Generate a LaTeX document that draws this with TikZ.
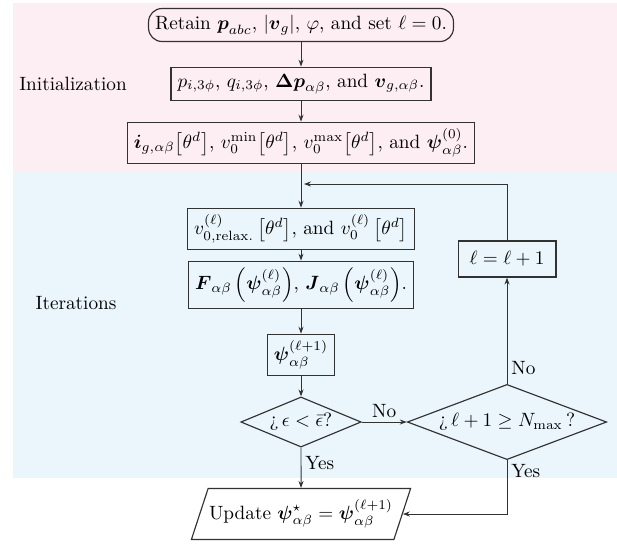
\documentclass[tikz,border=0pt]{standalone}
\usepackage{amsmath,amssymb}
\usetikzlibrary{shapes.geometric,arrows.meta}
\definecolor{initbg}{RGB}{252,238,243}
\definecolor{iterbg}{RGB}{234,246,251}
\definecolor{linec}{RGB}{50,50,50}
\begin{document}
\begin{tikzpicture}[x=0.52pt,y=-0.52pt,
  stepbox/.style={draw=linec, line width=0.6pt, rectangle, inner sep=3.4pt},
  startbox/.style={stepbox, rounded corners=7pt},
  decision/.style={draw=linec, line width=0.6pt, diamond, inner sep=1.2pt},
  iobox/.style={draw=linec, line width=0.6pt, trapezium, trapezium left angle=68, trapezium right angle=112, trapezium stretches=true, inner xsep=0.5pt, minimum height=26.5pt},
  arr/.style={draw=linec, line width=0.5pt, -{Stealth[length=3.6pt,width=2.6pt]}},
  lbl/.style={inner sep=2pt}]
\useasboundingbox (0,0) rectangle (617,548);
\fill[initbg] (13,3) rectangle (617,172);
\fill[iterbg] (13,172) rectangle (617,478);

\node[startbox] (start) at (301,25) {Retain $\boldsymbol{p}_{abc}$, $|\boldsymbol{v}_g|$, $\varphi$, and set $\ell=0$.};
\node[stepbox] (b2) at (301,84) {$p_{i,3\phi}$, $q_{i,3\phi}$, $\boldsymbol{\Delta p}_{\alpha\beta}$, and $\boldsymbol{v}_{g,\alpha\beta}$.};
\node[stepbox] (b3) at (301,143) {$\boldsymbol{i}_{g,\alpha\beta}\bigl[\theta^d\bigr]$, $v_0^{\min}\bigl[\theta^d\bigr]$, $v_0^{\max}\bigl[\theta^d\bigr]$, and $\boldsymbol{\psi}^{(0)}_{\alpha\beta}$.};
\node[stepbox] (b4) at (301,229) {$v^{(\ell)}_{0,\text{relax.}}\left[\theta^d\right]$, and $v^{(\ell)}_0\left[\theta^d\right]$};
\node[stepbox] (b5) at (301,285) {$\boldsymbol{F}_{\alpha\beta}\left(\boldsymbol{\psi}^{(\ell)}_{\alpha\beta}\right)$, $\boldsymbol{J}_{\alpha\beta}\left(\boldsymbol{\psi}^{(\ell)}_{\alpha\beta}\right)$.};
\node[stepbox] (b6) at (301,355) {$\boldsymbol{\psi}^{(\ell+1)}_{\alpha\beta}$};
\node[decision, shape aspect=2.4] (d1) at (301,422) {¿$\,\epsilon<\bar{\epsilon}$?};
\node[decision, shape aspect=2.65] (d2) at (507,422) {¿$\,\ell+1\geq N_{\max}$\,?};
\node[stepbox, inner xsep=6pt, inner ysep=5.5pt] (lb) at (507,259) {$\ell=\ell+1$};
\node[iobox] (out) at (301,514) {Update $\boldsymbol{\psi}^{\star}_{\alpha\beta}=\boldsymbol{\psi}^{(\ell+1)}_{\alpha\beta}$};

\node (init) at (73,84) {Initialization};
\node (iter) at (76,303) {Iterations};

\coordinate (join) at (304,184);

\draw[arr] (start) -- (b2);
\draw[arr] (b2) -- (b3);
\draw[arr] (b3) -- (b4);
\draw[arr] (b4) -- (b5);
\draw[arr] (b5) -- (b6);
\draw[arr] (b6) -- (d1);
\draw[arr] (d1) -- node[lbl, above] {No} (d2);
\draw[arr] (d2) -- node[lbl, right, pos=0.15] {No} (lb);
\draw[arr] (lb) |- (join);
\draw[arr] (d1) -- node[lbl, right, pos=0.38] {Yes} (out);
\draw[arr] (d2.south) |- node[lbl, right, pos=0.1] {Yes} (out.east);
\end{tikzpicture}
\end{document}
